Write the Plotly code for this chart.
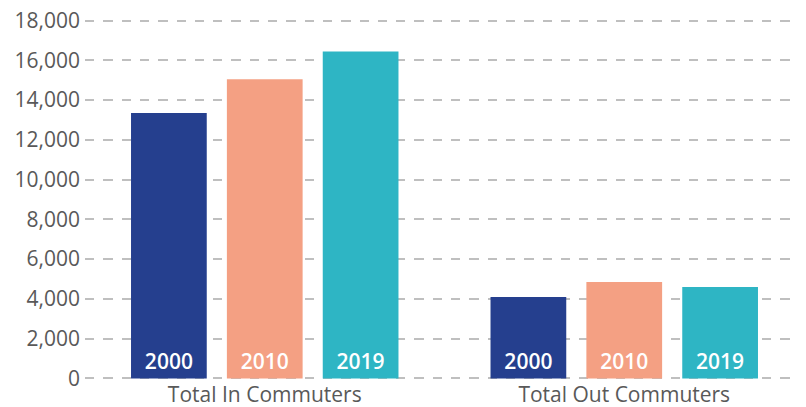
import plotly.graph_objects as go

categories = ["Total In Commuters", "Total Out Commuters"]
years = ["2000", "2010", "2019"]
values_2000 = [13350, 4100]
values_2010 = [15050, 4850]
values_2019 = [16450, 4600]
colors = ["#253F8E", "#F4A083", "#2EB5C4"]
tick_vals = list(range(0, 18001, 2000))
tick_text = [f"{v:,}" for v in tick_vals]

fig = go.Figure()
for yr, vals, col in zip(years, [values_2000, values_2010, values_2019], colors):
    fig.add_trace(go.Bar(
        x=categories, y=vals, name=yr, marker=dict(color=col, line=dict(width=0)),
        text=[yr] * len(vals), textposition="inside", insidetextanchor="start",
        textangle=0, constraintext="none",
        textfont=dict(color="white", size=21, family="Open Sans", weight=600),
        hoverinfo="skip",
    ))

fig.update_layout(
    width=798, height=399,
    margin=dict(l=77, r=2, t=11, b=27),
    paper_bgcolor="white", plot_bgcolor="white",
    barmode="group", bargap=0.2, bargroupgap=0.21,
    showlegend=False,
    font=dict(family="Open Sans", color="#595959"),
    uniformtext=dict(mode=False),
)
fig.update_xaxes(showgrid=False, showline=False, ticks="", automargin=False,
                 ticklabelstandoff=0, ticklabeloverflow="allow",
                 tickfont=dict(size=21, color="#595959"))
fig.update_yaxes(range=[-80, 18080], tickvals=tick_vals, ticktext=tick_text,
                 showgrid=True, gridcolor="#BFBFBF", gridwidth=1.8, griddash="9.3px,9px",
                 zeroline=False, showline=False, ticks="", ticklabelstandoff=4,
                 automargin=False, ticklabeloverflow="allow",
                 tickfont=dict(size=21, color="#595959"))
fig.write_html("out.html")
